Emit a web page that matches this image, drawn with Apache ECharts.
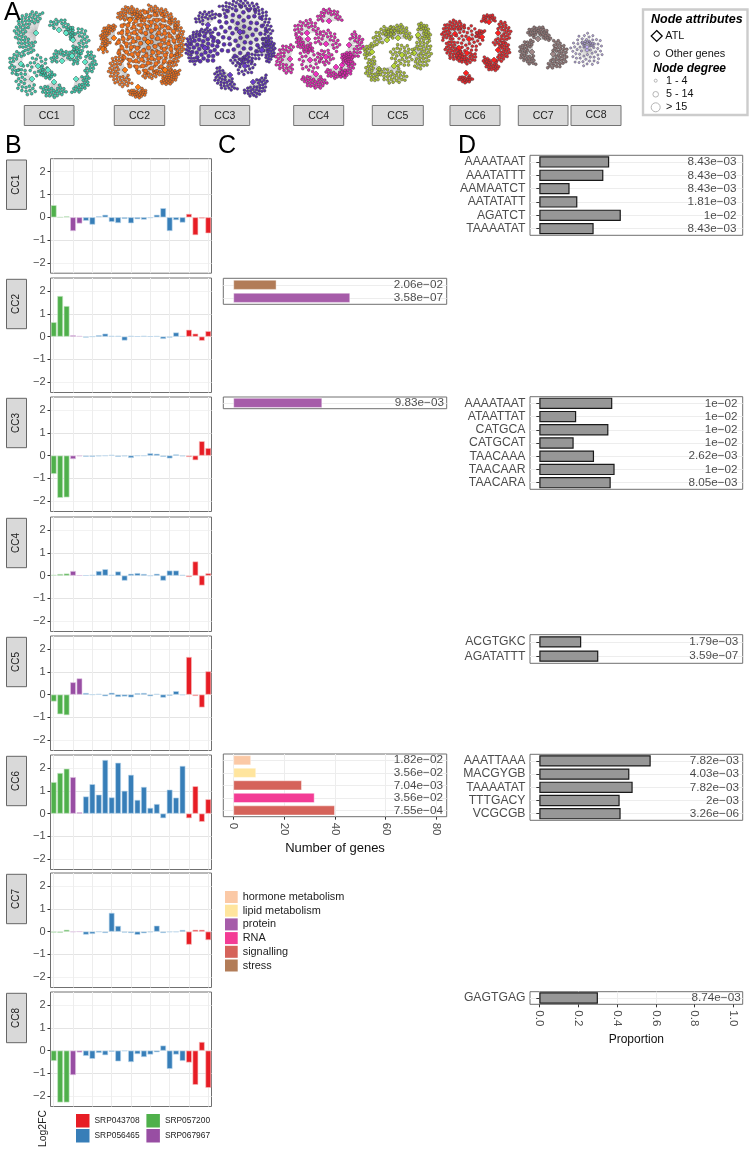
<!DOCTYPE html>
<html><head><meta charset="utf-8"><style>html,body{margin:0;padding:0;background:#fff}#c{width:752px;height:1150px}</style></head>
<body><div id="c"></div>
<script src="https://cdn.jsdelivr.net/npm/echarts@6/dist/echarts.min.js"></script>
<script>
// ---------- data ----------
const clusters = ['CC1','CC2','CC3','CC4','CC5','CC6','CC7','CC8'];
const experiments = ['SRP043708','SRP057200','SRP056465','SRP067967'];
const sampleExperiment = ['SRP057200','SRP057200','SRP057200','SRP067967','SRP067967',
 'SRP056465','SRP056465','SRP056465','SRP056465','SRP056465','SRP056465','SRP056465','SRP056465',
 'SRP056465','SRP056465','SRP056465','SRP056465','SRP056465','SRP056465','SRP056465','SRP056465',
 'SRP043708','SRP043708','SRP043708','SRP043708'];
const log2fcCC1 = [.53,0,.04,-.6,-.27,-.15,-.32,.04,.11,-.2,-.25,-.07,-.26,-.08,-.1,-.03,.11,.4,-.6,-.12,-.23,.15,-.78,-.05,-.7];
const log2fcCC2 = [.63,1.78,1.34,.06,.02,-.04,0,.06,.13,.03,.03,-.17,.03,.01,.03,.01,.02,-.1,-.04,.18,.02,.3,.13,-.18,.24];
const log2fcCC3 = [-.8,-1.85,-1.83,-.15,-.03,-.05,-.05,-.03,-.01,.03,-.05,-.03,-.1,-.01,-.01,.1,.08,-.05,-.12,.05,-.03,-.06,-.2,.63,.33];
const log2fcCC4 = [.03,.07,.09,.2,.01,.01,.03,.2,.28,.03,.18,-.22,.08,.11,.07,-.01,.08,-.22,.22,.22,.03,-.06,.62,-.43,.1];
const log2fcCC5 = [-.3,-.86,-.9,.54,.71,.07,0,.03,-.07,.08,-.1,-.08,-.12,.06,.07,-.07,.03,-.13,-.05,.15,-.02,1.65,-.06,-.56,1.02];
const log2fcCC6 = [1.38,1.78,1.97,1.6,.06,.75,1.29,.83,2.35,.71,2.23,1,1.7,.6,1.17,.25,.42,-.2,1.05,.7,2.09,-.2,1.2,-.36,.63];
const log2fcCC7 = [-.04,-.05,.08,-.02,0,-.13,-.1,-.01,-.06,.82,.25,-.04,-.06,-.14,-.07,-.03,.26,-.06,-.02,-.02,.07,-.57,.08,.08,-.37];
const log2fcCC8 = [-.45,-2.27,-2.27,-1.07,-.08,-.23,-.36,-.1,-.2,-.05,-.47,-.02,-.5,-.15,-.28,-.17,-.07,.22,-.8,-.17,-.45,-.52,-1.5,.38,-1.63];

const termNames = ['hormone metabolism','lipid metabolism','protein','RNA','signalling','stress'];
const termsCC2 = ['stress','protein'];            const genesCC2 = [17,46];          const termPCC2 = ['2.06e−02','3.58e−07'];
const termsCC3 = ['protein'];                     const genesCC3 = [35];             const termPCC3 = ['9.83e−03'];
const termsCC6 = ['hormone metabolism','lipid metabolism','signalling','RNA','signalling'];
const genesCC6 = [7,9,27,32,40];                  const termPCC6 = ['1.82e−02','3.56e−02','7.04e−03','3.56e−02','7.55e−04'];

const motifsCC1 = ['AAAATAAT','AAATATTT','AAMAATCT','AATATATT','AGATCT','TAAAATAT'];
const propCC1 = [.36,.33,.156,.196,.42,.28];
const motifPCC1 = ['8.43e−03','8.43e−03','8.43e−03','1.81e−03','1e−02','8.43e−03'];
const motifsCC3 = ['AAAATAAT','ATAATTAT','CATGCA','CATGCAT','TAACAAA','TAACAAR','TAACARA'];
const propCC3 = [.376,.19,.356,.177,.282,.388,.368];
const motifPCC3 = ['1e−02','1e−02','1e−02','1e−02','2.62e−03','1e−02','8.05e−03'];
const motifsCC5 = ['ACGTGKC','AGATATTT'];
const propCC5 = [.216,.304];
const motifPCC5 = ['1.79e−03','3.59e−07'];
const motifsCC6 = ['AAATTAAA','MACGYGB','TAAAATAT','TTTGACY','VCGCGB'];
const propCC6 = [.574,.464,.481,.414,.419];
const motifPCC6 = ['7.82e−03','4.03e−03','7.82e−03','2e−03','3.26e−06'];
const motifsCC8 = ['GAGTGAG'];
const propCC8 = [.302];
const motifPCC8 = ['8.74e−03'];

// network neighbourhoods: hub x, hub y, neighbours, ring from, ring to, arc from, arc to, neighbour size
const netCC1 = [[36,33,62,9,22,95,290],[59,30,20,5,12,200,400],[66,33,12,4,9,-60,60],[73,40,26,6,16,-70,90],[21,64,20,6,13,110,300],[38,66,20,4,11,0,360],[48,70,16,4,9,30,210],[62,61,22,5,12,170,360],[72,56,14,4,10,-90,90],[85,62,20,5,12,-80,100],[32,79,26,6,17,70,240],[54,82,28,6,16,30,160],[76,79,22,6,14,-20,110]];
const netCC2 = [[148,42,130,3,32,0,360,2.8],[148,42,85,2,32,0,360,4.4],[148,42,90,30,37,-90,100,2.8],[130,20,34,5,14,180,360,2.8],[114,38,36,6,14,130,280,2.8],[125,70,46,6,17,60,260,2.8],[138,87,26,4,11,20,160,2.8],[165,70,36,5,15,0,110,2.8],[103,49,6,2,5,0,360,2.8]];
const netCC3 = [[240,32,60,2,27,0,360,4],[240,32,90,24,33,-130,110,2.8],[205,48,32,2,15,0,360,4],[205,48,40,14,20,120,300,2.8],[230,75,36,4,16,60,220,2.8],[253,82,36,4,15,-30,140,2.8],[262,50,30,5,14,-70,70,2.8],[245,66,22,3,10,0,360,2.8],[208,25,22,5,15,190,320,2.8]];
const netCC4 = [[329,21,22,6,13,180,360],[307,33,24,5,14,170,360],[308,39,24,5,13,60,200],[326,44,26,5,14,180,400],[349,45,30,6,15,-80,110],[290,59,34,6,15,70,290],[310,60,24,5,12,0,360],[336,67,20,5,12,20,170],[342,65,20,5,13,-20,110],[347,58,24,0,6,0,360],[316,74,30,5,15,30,170],[326,57,16,3,8,0,360]];
const netCC5 = [[398,38,32,5,14,180,370],[387,40,24,5,14,150,330],[414,53,42,4,18,-80,90],[402,55,32,3,12,0,360],[379,69,26,5,14,90,250],[394,66,32,5,18,30,170],[372,52,14,3,9,130,300],[418,35,22,5,13,-90,30]];
const netCC6 = [[455,34,36,4,14,150,330],[469,39,36,3,14,0,360],[459,48,36,3,14,60,240],[467,53,26,3,11,0,200],[482,37,10,3,7,180,300],[498,33,34,4,13,-90,120],[489,22,16,3,8,180,360],[498,50,26,3,12,-60,100],[494,60,26,3,11,50,200],[466,73,18,4,10,40,150]];
const netCC7 = [[538,39,32,4,13,200,370],[532,52,36,4,13,70,280],[553,54,44,3,15,-90,120]];
const netCC8 = [[587,50,55,3,17,0,360],[587,47,12,3,7,200,360]];
const networks = [netCC1,netCC2,netCC3,netCC4,netCC5,netCC6,netCC7,netCC8];

// ---------- styles ----------
const FONT = '"Liberation Sans",Arial,sans-serif';
const expColor = {SRP043708:'#E71D25',SRP057200:'#4FB04B',SRP056465:'#377EB8',SRP067967:'#984EA3'};
const expEdge  = {SRP043708:'#F7C3C3',SRP057200:'#C8E6C6',SRP056465:'#BCD6EC',SRP067967:'#E0C6E4'};
const termColor = {'hormone metabolism':'#FBC9A6','lipid metabolism':'#FFE59E','protein':'#A65CA9','RNA':'#F33C95','signalling':'#D5635A','stress':'#B27C58'};
const netColor = ['#38C6A8','#F2701C','#5B2FB3','#E224B2','#A9BF33','#E5262B','#8F7474','#B7A6E0'];
const netHub   = ['#5FE6C8','#FF7A10','#6A3CC8','#F030C0','#B6D636','#FF2020','#A08888','#C0B0F0'];
const GRID = '#EDEDED';

const log2fc = [log2fcCC1,log2fcCC2,log2fcCC3,log2fcCC4,log2fcCC5,log2fcCC6,log2fcCC7,log2fcCC8];
const bTop = [158.7,278,397,517,636,755,873,992];
const panelH = 114.5;

const option = {animation:false,backgroundColor:'#fff',textStyle:{fontFamily:FONT},grid:[],xAxis:[],yAxis:[],series:[],legend:[],graphic:{elements:[]}};
const G = option.graphic.elements;

function addGrid(left,top,right,bottom,border){
  option.grid.push({left,top,width:right-left,height:bottom-top,show:border,borderColor:'#707070',borderWidth:1,backgroundColor:'transparent',containLabel:false});
  return option.grid.length-1;
}

// --- panel B ---
const minus = s => String(s).replace('-','−');
log2fc.forEach((vals,i)=>{
  const g = addGrid(50.5,bTop[i],211.5,bTop[i]+panelH,true);
  const cats = vals.map((_,k)=>String(k));
  option.xAxis.push({type:'category',gridIndex:g,data:cats,axisLabel:{show:false},axisTick:{show:false},axisLine:{show:false},
    splitLine:{show:true,alignWithLabel:true,lineStyle:{color:GRID,width:1}}});
  option.yAxis.push({type:'value',gridIndex:g,min:-2.45,max:2.57,splitNumber:10,axisLine:{show:false},
    axisTick:{show:true,length:3,customValues:[-2,-1,0,1,2],lineStyle:{color:'#333',width:1}},
    axisLabel:{show:true,customValues:[-2,-1,0,1,2],formatter:v=>minus(v),fontSize:11,color:'#4D4D4D',margin:5,fontFamily:FONT},
    splitLine:{show:true,lineStyle:{color:['#F2F2F2','#E4E4E4'],width:1}}});
  const ax = option.xAxis.length-1;
  experiments.forEach(ex=>{
    option.series.push({type:'bar',name:ex,xAxisIndex:ax,yAxisIndex:ax,barWidth:'88%',barGap:'-100%',silent:true,
      itemStyle:{color:expColor[ex],borderColor:expEdge[ex],borderWidth:.6},
      data:vals.map((v,k)=>sampleExperiment[k]===ex?v:null)});
  });
  // strip box
  G.push({type:'rect',shape:{x:6.5,y:bTop[i]+1.3,width:20,height:49.4},style:{fill:'#D9D9D9',stroke:'#666',lineWidth:1},z:10});
  G.push({type:'text',x:16.5,y:bTop[i]+26,rotation:Math.PI/2,style:{text:clusters[i],font:'10px '+FONT,fill:'#222',align:'center',verticalAlign:'middle'},z:11});
});

// --- panels C and D share a builder ---
function hBarPanel(opts){
  const g = addGrid(opts.left,opts.top,opts.right,opts.bottom,true);
  const showX = !!opts.xLabels;
  option.xAxis.push({type:'value',gridIndex:g,min:opts.min,max:opts.max,splitNumber:opts.split,
    axisLine:{show:false},
    axisTick:{show:showX,length:3,customValues:opts.xLabels||[],lineStyle:{color:'#333'}},
    axisLabel:{show:showX,customValues:opts.xLabels||[],rotate:-90,fontSize:11.5,color:'#4D4D4D',margin:6,fontFamily:FONT,formatter:opts.xFmt},
    name:opts.xName||'',nameLocation:'middle',nameGap:opts.nameGap||0,nameTextStyle:{fontSize:opts.nameSize||12,color:'#111',fontFamily:FONT},
    splitLine:{show:true,lineStyle:{color:GRID,width:1}}});
  option.yAxis.push({type:'category',gridIndex:g,inverse:true,data:opts.rows,
    axisLine:{show:false},
    axisTick:{show:!!opts.rowLabels,alignWithLabel:true,length:3,lineStyle:{color:'#333'}},
    axisLabel:{show:!!opts.rowLabels,fontSize:12.2,color:'#4D4D4D',margin:4.5,fontFamily:FONT,interval:0},
    splitLine:{show:true,alignWithLabel:true,lineStyle:{color:'#EDEDED',width:1}}});
  const ax = option.xAxis.length-1;
  opts.groups.forEach(([name,style])=>{
    option.series.push({type:'bar',name,xAxisIndex:ax,yAxisIndex:ax,barWidth:opts.barH,barGap:'-100%',silent:true,itemStyle:style,
      data:opts.values.map((v,k)=>opts.groupOf(k)===name?v:null)});
  });
  option.series.push({type:'scatter',xAxisIndex:ax,yAxisIndex:ax,symbolSize:1,silent:true,z:6,itemStyle:{color:'rgba(0,0,0,0)'},
    label:{show:true,position:'left',distance:0,fontSize:11.7,color:'#1A1A1A',fontFamily:FONT,formatter:p=>p.data[2]},
    data:opts.pvals.map((p,k)=>[opts.anchor,k,p])});
}

const termPanels = [
 {top:278.3,bottom:304.3,rows:termsCC2,values:genesCC2,pvals:termPCC2,anchor:82.7},
 {top:397,bottom:408.7,rows:termsCC3,values:genesCC3,pvals:termPCC3,anchor:83.1},
 {top:754,bottom:816.7,rows:termsCC6,values:genesCC6,pvals:termPCC6,anchor:82.7,xLabels:[0,20,40,60,80],xName:'Number of genes',nameGap:25,nameSize:13}
];
termPanels.forEach(p=>{
  const names=[...new Set(p.rows)];
  hBarPanel(Object.assign({left:223.3,right:446.7,min:-3.94,max:84,split:9,barH:10,
    rows:p.rows.map((r,k)=>k+':'+r),groupOf:k=>p.rows[k],
    groups:names.map(n=>[n,{color:termColor[n],borderColor:'rgba(255,255,255,.55)',borderWidth:.8}])},p));
});

const motifPanels = [
 {top:155.3,bottom:235.3,rows:motifsCC1,values:propCC1,pvals:motifPCC1,anchor:1.019},
 {top:396.7,bottom:489.3,rows:motifsCC3,values:propCC3,pvals:motifPCC3,anchor:1.024},
 {top:634.7,bottom:663.3,rows:motifsCC5,values:propCC5,pvals:motifPCC5,anchor:1.028},
 {top:754.3,bottom:820.3,rows:motifsCC6,values:propCC6,pvals:motifPCC6,anchor:1.031},
 {top:991.7,bottom:1004.3,rows:motifsCC8,values:propCC8,pvals:motifPCC8,anchor:1.04,xLabels:[0,.2,.4,.6,.8,1],xFmt:v=>v.toFixed(1),xName:'Proportion',nameGap:29,nameSize:12}
];
motifPanels.forEach(p=>{
  hBarPanel(Object.assign({left:530,right:742.7,min:-.048,max:1.048,split:11,barH:11.3,rowLabels:true,
    groupOf:()=>'proportion',
    groups:[['proportion',{color:'#979797',borderColor:'#1A1A1A',borderWidth:1.2}]]},p));
});

// --- panel A: networks on a hidden page-sized scale ---
const netGrid = addGrid(0,0,752,1150,false);
option.xAxis.push({type:'value',gridIndex:netGrid,min:0,max:752,show:false,splitLine:{show:false}});
option.yAxis.push({type:'value',gridIndex:netGrid,min:0,max:1150,inverse:true,show:false,splitLine:{show:false}});
const netAx = option.xAxis.length-1;
networks.forEach((specs,ni)=>{
  const nodes=[],links=[];
  const hubSize = ni===7?4.5:6;
  specs.forEach(([cx,cy,n,r0,r1,a0,a1,sz])=>{
    const hub=nodes.length;
    nodes.push({value:[cx,cy],symbol:'diamond',symbolSize:hubSize,itemStyle:{color:netHub[ni]}});
    for(let j=0;j<n;j++){
      const u=(j+.5)/n, r=Math.sqrt(r0*r0+u*(r1*r1-r0*r0));
      const a=(a0+(a1-a0)*((j*0.618034)%1))*1, rad=a*Math.PI/180;
      links.push({source:hub,target:nodes.length});
      nodes.push({value:[cx+r*Math.cos(rad),cy+r*Math.sin(rad)],symbolSize:sz||(ni===7?2.2:2.9)});
    }
  });
  option.series.push({type:'graph',coordinateSystem:'cartesian2d',xAxisIndex:netAx,yAxisIndex:netAx,layout:'none',silent:true,z:3,
    symbol:'circle',itemStyle:{color:netColor[ni],borderColor:'#3C3C3C',borderWidth:.45},
    lineStyle:{color:'#BDBDBD',width:.5,opacity:.75},label:{show:false},emphasis:{disabled:true},
    data:nodes,links});
});

// top strip boxes
const topBoxes=[[24.3,74],[114.3,164.7],[200,249.7],[293.7,343.7],[372.3,423.3],[450,500],[518.3,568],[571,621]];
topBoxes.forEach(([a,b],i)=>{
  G.push({type:'rect',shape:{x:a,y:105.5,width:b-a,height:20},style:{fill:'#DADADA',stroke:'#737373',lineWidth:1},z:10});
  G.push({type:'text',x:(a+b)/2,y:i===7?115:116,style:{text:clusters[i],font:'10.5px '+FONT,fill:'#222',align:'center',verticalAlign:'middle'},z:11});
});
// panel letters
[['A',4,13],['B',5,146],['C',218,146],['D',458,146]].forEach(([t,x,y])=>{
  G.push({type:'text',x,y,style:{text:t,font:'25px '+FONT,fill:'#000',align:'left',verticalAlign:'middle'},z:11});
});
// node legend
G.push({type:'rect',shape:{x:643,y:9.5,width:104.5,height:105.5},style:{fill:'#fff',stroke:'#CCCCCC',lineWidth:2.4},z:9});
const txt=(t,x,y,f,c)=>G.push({type:'text',x,y,style:{text:t,font:f,fill:c||'#111',align:'left',verticalAlign:'middle'},z:11});
txt('Node attributes',651,20,'italic bold 12.5px '+FONT,'#000');
G.push({type:'polygon',shape:{points:[[656.7,30.5],[662.2,36],[656.7,41.5],[651.2,36]]},style:{fill:'#fff',stroke:'#000',lineWidth:1.2},z:11});
txt('ATL',665.3,36,'10.8px '+FONT);
G.push({type:'circle',shape:{cx:656.7,cy:53.7,r:2.7},style:{fill:'#fff',stroke:'#333',lineWidth:1},z:11});
txt('Other genes',665.3,53.7,'10.9px '+FONT);
txt('Node degree',653.3,69,'italic bold 12px '+FONT,'#000');
[['1 - 4',80.7,1.5],['5 - 14',94.3,2.8],['> 15',107.3,4.5]].forEach(([t,y,r])=>{
  G.push({type:'circle',shape:{cx:655.7,cy:y,r},style:{fill:'#fff',stroke:'#B5B5B5',lineWidth:1},z:11});
  txt(t,666,y,'10.8px '+FONT);
});
// Log2FC
G.push({type:'text',x:43,y:1128.5,rotation:-Math.PI/2+Math.PI,style:{text:'Log2FC',font:'10.4px '+FONT,fill:'#222',align:'center',verticalAlign:'middle'},z:11});

// legends
const sharedLegend={orient:'vertical',selectedMode:false,itemGap:1.5,itemWidth:13.5,itemHeight:13.5,icon:'rect',itemStyle:{borderWidth:0},padding:0,textStyle:{fontSize:8.4,color:'#222',fontFamily:FONT}};
option.legend.push(Object.assign({},sharedLegend,{left:76,top:1114,data:['SRP043708','SRP056465']}));
option.legend.push(Object.assign({},sharedLegend,{left:146.4,top:1114,data:['SRP057200','SRP067967']}));
option.legend.push({orient:'vertical',selectedMode:false,left:225,top:891,padding:0,itemGap:1.7,itemWidth:12.7,itemHeight:12,icon:'rect',itemStyle:{borderWidth:0},textStyle:{fontSize:10.9,color:'#222',fontFamily:FONT},data:termNames});

echarts.init(document.getElementById('c'),null,{renderer:'canvas',width:752,height:1150}).setOption(option);
</script></body></html>
